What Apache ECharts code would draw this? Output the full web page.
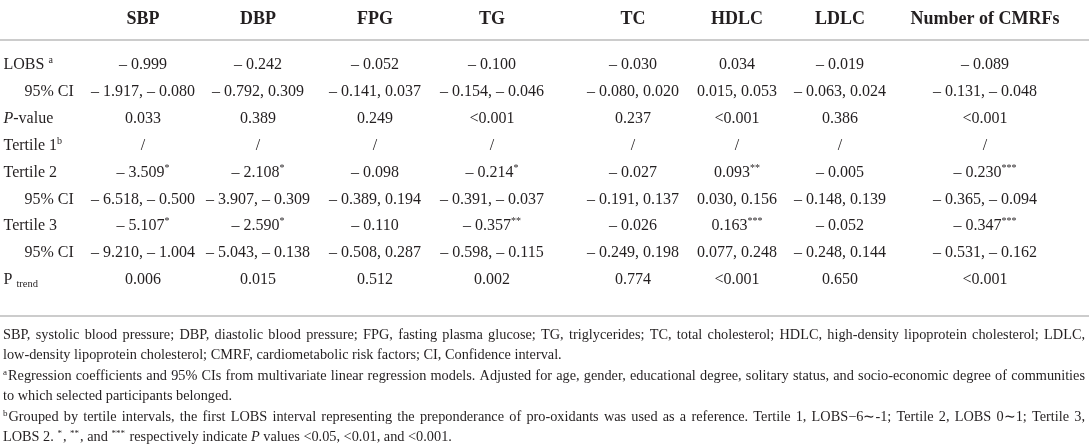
<!DOCTYPE html>
<html><head><meta charset="utf-8">
<script src="https://cdn.jsdelivr.net/npm/echarts@6/dist/echarts.min.js"></script>
<style>html,body{margin:0;padding:0;background:#fff}#c{width:1089px;height:445px}</style>
</head><body><div id="c"></div>
<script>
// ---- table content ----
const columns = ['SBP','DBP','FPG','TG','TC','HDLC','LDLC','Number of CMRFs'];
const rowLabels = ['LOBS {sup|a}','95% CI','{it|P}-value','Tertile 1{sup|b}','Tertile 2','95% CI','Tertile 3','95% CI','P {sub|trend}'];
const lobs = ['– 0.999','– 0.242','– 0.052','– 0.100','– 0.030','0.034','– 0.019','– 0.089'];
const lobsCI = ['– 1.917, – 0.080','– 0.792, 0.309','– 0.141, 0.037','– 0.154, – 0.046','– 0.080, 0.020','0.015, 0.053','– 0.063, 0.024','– 0.131, – 0.048'];
const lobsP = ['0.033','0.389','0.249','<0.001','0.237','<0.001','0.386','<0.001'];
const tertile1 = ['/','/','/','/','/','/','/','/'];
const tertile2 = ['– 3.509*','– 2.108*','– 0.098','– 0.214*','– 0.027','0.093**','– 0.005','– 0.230***'];
const tertile2CI = ['– 6.518, – 0.500','– 3.907, – 0.309','– 0.389, 0.194','– 0.391, – 0.037','– 0.191, 0.137','0.030, 0.156','– 0.148, 0.139','– 0.365, – 0.094'];
const tertile3 = ['– 5.107*','– 2.590*','– 0.110','– 0.357**','– 0.026','0.163***','– 0.052','– 0.347***'];
const tertile3CI = ['– 9.210, – 1.004','– 5.043, – 0.138','– 0.508, 0.287','– 0.598, – 0.115','– 0.249, 0.198','0.077, 0.248','– 0.248, 0.144','– 0.531, – 0.162'];
const pTrend = ['0.006','0.015','0.512','0.002','0.774','<0.001','0.650','<0.001'];
const footnotes = [
  'SBP, systolic blood pressure; DBP, diastolic blood pressure; FPG, fasting plasma glucose; TG, triglycerides; TC, total cholesterol; HDLC, high-density lipoprotein cholesterol; LDLC,',
  'low-density lipoprotein cholesterol; CMRF, cardiometabolic risk factors; CI, Confidence interval.',
  '{fsup|a}Regression coefficients and 95% CIs from multivariate linear regression models. Adjusted for age, gender, educational degree, solitary status, and socio-economic degree of communities',
  'to which selected participants belonged.',
  '{fsup|b}Grouped by tertile intervals, the first LOBS interval representing the preponderance of pro-oxidants was used as a reference. Tertile 1, LOBS−6∼-1; Tertile 2, LOBS 0∼1; Tertile 3,',
  'LOBS 2. {fsup|*}, {fsup|**}, and {fsup|***} respectively indicate {fit|P} values <0.05, <0.01, and <0.001.'
];

// ---- layout (styling only) ----
const rows = [lobs, lobsCI, lobsP, tertile1, tertile2, tertile2CI, tertile3, tertile3CI, pTrend];
const rowIndent = [0,1,0,0,0,1,0,1,0];
const colCenters = [143, 258, 375, 492, 633, 737, 840, 985];
const labelX = 3, indentX = 24;
const headerRow = -1.71;
const justify = [true, false, true, false, true, false];
const FONT_NAME = 'Liberation Serif';
const FONT = '"Liberation Serif", "Times New Roman", serif';
const TXT = '#231f20';
const BODY = 16, HEAD = 18, FN = 14.3, FN_SUP = 9, FN_LH = 20.5, FN_TOP = 335;

const cellData = [];
rows.forEach((vals, r) => vals.forEach((v, c) => cellData.push([colCenters[c], r, v])));
const labelData = rowLabels.map((l, r) => [rowIndent[r] ? indentX : labelX, r, l]);
const headerData = columns.map((h, c) => [colCenters[c], headerRow, h]);

function fmtVal(s) {
  const m = s.match(/^(.*?)(\*+)$/);
  return m ? m[1] + '{sup|' + m[2] + '}' : s;
}

const rich = {
  sup: {fontFamily: FONT, fontSize: 10, color: TXT, verticalAlign: 'top', lineHeight: 13},
  sub: {fontFamily: FONT, fontSize: 10.5, color: TXT, verticalAlign: 'bottom', lineHeight: 11},
  it: {fontFamily: FONT, fontSize: BODY, color: TXT, fontStyle: 'italic', lineHeight: 19}
};

// ---- footnotes, justified like the source ----
const ctx = document.createElement('canvas').getContext('2d');
function segs(word) {
  const out = []; const re = /\{(\w+)\|([^}]*)\}/g; let last = 0, m;
  while ((m = re.exec(word))) {
    if (m.index > last) out.push({t: word.slice(last, m.index), s: ''});
    out.push({t: m[2], s: m[1]}); last = re.lastIndex;
  }
  if (last < word.length) out.push({t: word.slice(last), s: ''});
  return out;
}
function segWidth(sg) {
  const size = sg.s === 'fsup' ? FN_SUP : FN;
  ctx.font = (sg.s === 'fit' ? 'italic ' : '') + size + 'px "' + FONT_NAME + '"';
  return ctx.measureText(sg.t).width + (sg.s === 'fsup' ? 1 : 0);
}
ctx.font = FN + 'px "' + FONT_NAME + '"';
const spaceW = ctx.measureText(' ').width;
const fnRich = {
  fsup: {fontFamily: FONT, fontSize: FN_SUP, fill: TXT, verticalAlign: 'top', lineHeight: 16, padding: [0, 1, 0, 0]},
  fit: {fontFamily: FONT, fontSize: FN, fill: TXT, fontStyle: 'italic', lineHeight: 16}
};
const graphics = [];
footnotes.forEach((line, i) => {
  const words = line.split(' ');
  const widths = words.map(w => segs(w).reduce((a, s) => a + segWidth(s), 0));
  const total = widths.reduce((a, b) => a + b, 0);
  const gap = justify[i] ? (1085 - 3 - total) / (words.length - 1) : spaceW;
  let x = 3;
  const y = FN_TOP + i * FN_LH;
  words.forEach((w, k) => {
    graphics.push({type: 'text', x: x, y: y, silent: true,
      style: {text: w, fontFamily: FONT, fontSize: FN, lineHeight: 16, fill: TXT, verticalAlign: 'middle', align: 'left', rich: fnRich}});
    x += widths[k] + gap;
  });
});

const chart = echarts.init(document.getElementById('c'), null, {renderer: 'canvas'});
const baseLabel = {show: true, fontFamily: FONT, fontSize: BODY, color: TXT, lineHeight: 19, opacity: 1, rich};
const axisCommon = {type: 'value', min: 0, max: 1089, axisLine: {show: true, onZero: false, lineStyle: {color: '#cccccc', width: 2}}, axisTick: {show: false}, axisLabel: {show: false}, splitLine: {show: false}};
const hidden = {color: 'rgba(0,0,0,0)'};
chart.setOption({
  animation: false,
  backgroundColor: '#fff',
  grid: {left: 0, right: 0, top: 40, bottom: 129},
  xAxis: [
    Object.assign({position: 'top'}, axisCommon),
    Object.assign({position: 'bottom'}, axisCommon)
  ],
  yAxis: {type: 'value', inverse: true, min: -0.93, max: 9.34, show: false},
  series: [
    {type: 'scatter', xAxisIndex: 0, symbolSize: 1, itemStyle: hidden, clip: false, silent: true,
     data: cellData,
     label: Object.assign({}, baseLabel, {position: 'inside', align: 'center', formatter: p => fmtVal(p.data[2])})},
    {type: 'scatter', xAxisIndex: 0, symbolSize: 1, itemStyle: hidden, clip: false, silent: true,
     data: labelData,
     label: Object.assign({}, baseLabel, {position: 'right', distance: 0, formatter: p => p.data[2]})},
    {type: 'scatter', xAxisIndex: 0, symbolSize: 1, itemStyle: hidden, clip: false, silent: true,
     data: headerData,
     label: {show: true, position: 'inside', align: 'center', fontFamily: FONT, fontSize: HEAD, fontWeight: 'bold', color: TXT, opacity: 1, formatter: p => p.data[2]}}
  ],
  graphic: graphics
});
</script></body></html>
